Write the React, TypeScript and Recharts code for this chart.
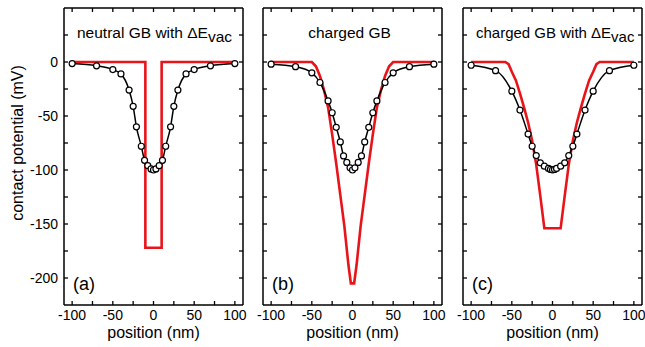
import React from 'react';
import { LineChart, Line, XAxis, YAxis } from 'recharts';

// ---------- data ----------
const xTicks = [-100, -75, -50, -25, 0, 25, 50, 75, 100];
const yTicks = [-200, -175, -150, -125, -100, -75, -50, -25, 0, 25];
const xDomain = [-110, 110];
const yDomain = [-225, 50];

// panel (a) neutral GB with dEvac
const aMeasX = [-100, -70, -50, -40, -30, -25, -21, -15, -11, -7, -3, 0, 3, 7, 11, 15, 21, 25, 30, 40, 50, 70, 100];
const aMeasV = [-1.5, -3.5, -7, -11, -26, -41, -60, -78, -91, -96, -99, -100, -99, -96, -91, -78, -60, -41, -26, -11, -7, -3.5, -1.5];
const aModelX = [-100, -10, -10, 10, 10, 100];
const aModelV = [0, 0, -172, -172, 0, 0];

// panel (b) charged GB
const bMeasX = [-100, -70, -50, -40, -30, -25, -20, -15, -11, -7, -3, 0, 3, 7, 11, 15, 20, 25, 30, 40, 50, 70, 100];
const bMeasV = [-2, -4.3, -10, -19, -36, -47, -60.5, -74, -87, -93, -98, -100, -98, -93, -87, -74, -60.5, -47, -36, -19, -10, -4.3, -2];
const bModelX = [-100, -50, -45, -40, -35, -30, -25, -20, -15, -10, -5, -2, 2, 5, 10, 15, 20, 25, 30, 35, 40, 45, 50, 100];
const bModelV = [0, 0, -4, -13, -26, -42, -67, -94, -123, -152, -188, -205, -205, -188, -152, -123, -94, -67, -42, -26, -13, -4, 0, 0];

// panel (c) charged GB with dEvac
const cMeasX = [-100, -70, -50, -40, -30, -25, -20, -15, -10, -5, -2.5, 0, 2.5, 5, 10, 15, 20, 25, 30, 40, 50, 70, 100];
const cMeasV = [-3, -8, -27, -44.5, -66.7, -78, -86.6, -93.4, -96.5, -98.5, -99.5, -100, -99.5, -98.5, -96.5, -93.4, -86.6, -78, -66.7, -44.5, -27, -8, -3];
const cModelX = [-100, -58, -54, -50, -45, -40, -35, -30, -25, -20, -15, -10, 10, 15, 20, 25, 30, 35, 40, 45, 50, 54, 58, 100];
const cModelV = [0, 0, -2, -9, -17, -29, -42, -56, -73, -95, -124, -154, -154, -124, -95, -73, -56, -42, -29, -17, -9, -2, 0, 0];

const zip = (xs: number[], vs: number[]) => xs.map((x, i) => ({ x, v: vs[i] }));

// ---------- style ----------
const FONT = '"Liberation Sans", Arial, Helvetica, sans-serif';
const RED = '#e8141a';
const TL = 4;
const AX = { stroke: '#000', strokeWidth: 1.5 };

const PLOT_W = 179;
const PLOT_TOP = 8;
const PLOT_BOTTOM = 305;
const LEFT_W = 60;
const RIGHT_W = 5;
const H = 347;

function BottomTick(props: any) {
  const { x, y, payload } = props;
  const v = payload.value;
  return (
    <g>
      <line x1={x} y1={y} x2={x} y2={y - TL} stroke="#000" strokeWidth={1.3} />
      {v % 50 === 0 && (
        <text x={x} y={y + 15} textAnchor="middle" fontSize={14} fontFamily={FONT} fill="#000">
          {v}
        </text>
      )}
    </g>
  );
}
function TopTick(props: any) {
  const { x, y } = props;
  return <line x1={x} y1={y} x2={x} y2={y + TL} stroke="#000" strokeWidth={1.3} />;
}
function makeLeftTick(showLabels: boolean) {
  return (props: any) => {
    const { x, y, payload } = props;
    const v = payload.value;
    return (
      <g>
        <line x1={x} y1={y} x2={x + TL} y2={y} stroke="#000" strokeWidth={1.3} />
        {showLabels && v % 50 === 0 && (
          <text x={x - 6} y={y} dy="0.36em" textAnchor="end" fontSize={14} fontFamily={FONT} fill="#000">
            {v}
          </text>
        )}
      </g>
    );
  };
}
function RightTick(props: any) {
  const { x, y } = props;
  return <line x1={x} y1={y} x2={x - TL} y2={y} stroke="#000" strokeWidth={1.3} />;
}

function Panel({ left, meas, model, labels }: { left: number; meas: any[]; model: any[]; labels: boolean }) {
  return (
    <div style={{ position: 'absolute', left: left - LEFT_W, top: 0, width: LEFT_W + PLOT_W + RIGHT_W, height: H }}>
      <LineChart
        width={LEFT_W + PLOT_W + RIGHT_W}
        height={H}
        margin={{ top: 0, right: 0, bottom: 0, left: 0 }}
      >
        <XAxis
          xAxisId="b"
          dataKey="x"
          type="number"
          domain={xDomain}
          ticks={xTicks}
          interval={0}
          allowDataOverflow
          orientation="bottom"
          height={H - PLOT_BOTTOM}
          tickSize={0}
          tickMargin={0}
          tickLine={false}
          axisLine={AX}
          tick={<BottomTick />}
        />
        <XAxis
          xAxisId="t"
          dataKey="x"
          type="number"
          domain={xDomain}
          ticks={xTicks}
          interval={0}
          allowDataOverflow
          orientation="top"
          height={PLOT_TOP}
          tickSize={0}
          tickMargin={0}
          tickLine={false}
          axisLine={AX}
          tick={<TopTick />}
        />
        <YAxis
          yAxisId="l"
          type="number"
          domain={yDomain}
          ticks={yTicks}
          interval={0}
          allowDataOverflow
          orientation="left"
          width={LEFT_W}
          tickSize={0}
          tickMargin={0}
          tickLine={false}
          axisLine={AX}
          tick={makeLeftTick(labels)}
        />
        <YAxis
          yAxisId="r"
          type="number"
          domain={yDomain}
          ticks={yTicks}
          interval={0}
          allowDataOverflow
          orientation="right"
          width={RIGHT_W}
          tickSize={0}
          tickMargin={0}
          tickLine={false}
          axisLine={AX}
          tick={<RightTick />}
        />
        <Line
          xAxisId="b"
          yAxisId="l"
          data={model}
          dataKey="v"
          type="linear"
          stroke={RED}
          strokeWidth={2.6}
          dot={false}
          activeDot={false}
          isAnimationActive={false}
        />
        <Line
          xAxisId="b"
          yAxisId="l"
          data={meas}
          dataKey="v"
          type="monotone"
          stroke="#000"
          strokeWidth={1.5}
          dot={{ r: 3, fill: '#fff', stroke: '#000', strokeWidth: 1.2 }}
          activeDot={false}
          isAnimationActive={false}
        />
      </LineChart>
    </div>
  );
}

const LEFTS = [64, 263, 463];

export default function App() {
  const t = { fontFamily: FONT, fill: '#000' } as const;
  return (
    <div style={{ position: 'absolute', left: 0, top: 0, width: 645, height: H, background: '#fff' }}>
      <Panel left={LEFTS[0]} meas={zip(aMeasX, aMeasV)} model={zip(aModelX, aModelV)} labels />
      <Panel left={LEFTS[1]} meas={zip(bMeasX, bMeasV)} model={zip(bModelX, bModelV)} labels={false} />
      <Panel left={LEFTS[2]} meas={zip(cMeasX, cMeasV)} model={zip(cModelX, cModelV)} labels={false} />
      <svg width={645} height={H} style={{ position: 'absolute', left: 0, top: 0, pointerEvents: 'none' }}>
        <text x={17} y={143} textAnchor="middle" dominantBaseline="central" fontSize={16} transform="rotate(-90 17 143)" {...t}>
          contact potential (mV)
        </text>
        {LEFTS.map((l, i) => (
          <text key={'xl' + i} x={l + PLOT_W / 2} y={338} textAnchor="middle" fontSize={16} {...t}>
            position (nm)
          </text>
        ))}
        <text x={LEFTS[0] + 13} y={38} fontSize={15.5} {...t}>
          neutral GB with ΔE<tspan dy={4}>vac</tspan>
        </text>
        <text x={LEFTS[1] + PLOT_W / 2 - 3} y={38} textAnchor="middle" fontSize={15.5} {...t}>
          charged GB
        </text>
        <text x={LEFTS[2] + 13} y={38} fontSize={15} {...t}>
          charged GB with ΔE<tspan dy={4}>vac</tspan>
        </text>
        {['(a)', '(b)', '(c)'].map((s, i) => (
          <text key={s} x={LEFTS[i] + 9} y={290} fontSize={18} {...t}>
            {s}
          </text>
        ))}
      </svg>
    </div>
  );
}
